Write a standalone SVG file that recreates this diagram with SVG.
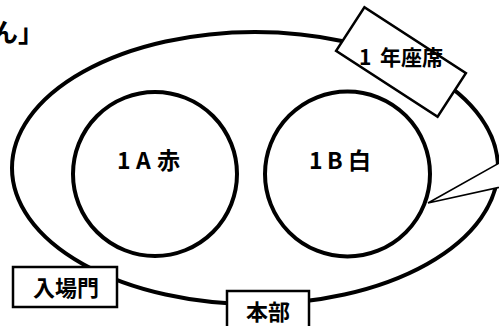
<svg xmlns="http://www.w3.org/2000/svg" width="499" height="326" viewBox="0 0 499 326">
<style>
.lbl{font-family:"Noto Sans CJK JP","Noto Sans",sans-serif;font-weight:700;fill:#000}
.box{fill:#fff;stroke:#000;stroke-width:2.5}
.ring{fill:none;stroke:#000;stroke-width:4}
</style>
<rect width="499" height="326" fill="#fff"/>
<g id="title"><text class="lbl" x="-8" y="42" font-size="26" font-weight="900">ん」</text></g>
<g id="field"><ellipse class="ring" cx="255" cy="168" rx="243" ry="136"/></g>
<g id="class1A"><circle class="ring" cx="155" cy="174" r="82" stroke-width="3.5"/>
<text class="lbl" y="169" font-size="23"><tspan x="117">1</tspan><tspan x="136">A</tspan><tspan x="157">赤</tspan></text></g>
<g id="class1B"><circle class="ring" cx="347.5" cy="174" r="82.5" stroke-width="3.5"/>
<text class="lbl" y="169" font-size="23"><tspan x="309">1</tspan><tspan x="327">B</tspan><tspan x="348">白</tspan></text></g>
<g id="seats1"><rect class="box" x="-60.5" y="-26" width="121" height="52" stroke-width="1.8" transform="translate(401 62) rotate(33)"/>
<text class="lbl" y="65" font-size="21"><tspan x="359">1</tspan><tspan x="380">年座席</tspan></text></g>
<g id="gate"><rect class="box" x="13" y="267" width="104" height="40"/>
<text class="lbl" x="66" y="296" font-size="22" text-anchor="middle">入場門</text></g>
<g id="hq"><rect class="box" x="227" y="291" width="82" height="45"/>
<text class="lbl" x="268" y="320" font-size="22" text-anchor="middle">本部</text></g>
<g id="connectors"><polygon points="510,157 428,203 510,185" fill="#fff" stroke="#000" stroke-width="1.6" stroke-linejoin="miter"/></g>
</svg>
